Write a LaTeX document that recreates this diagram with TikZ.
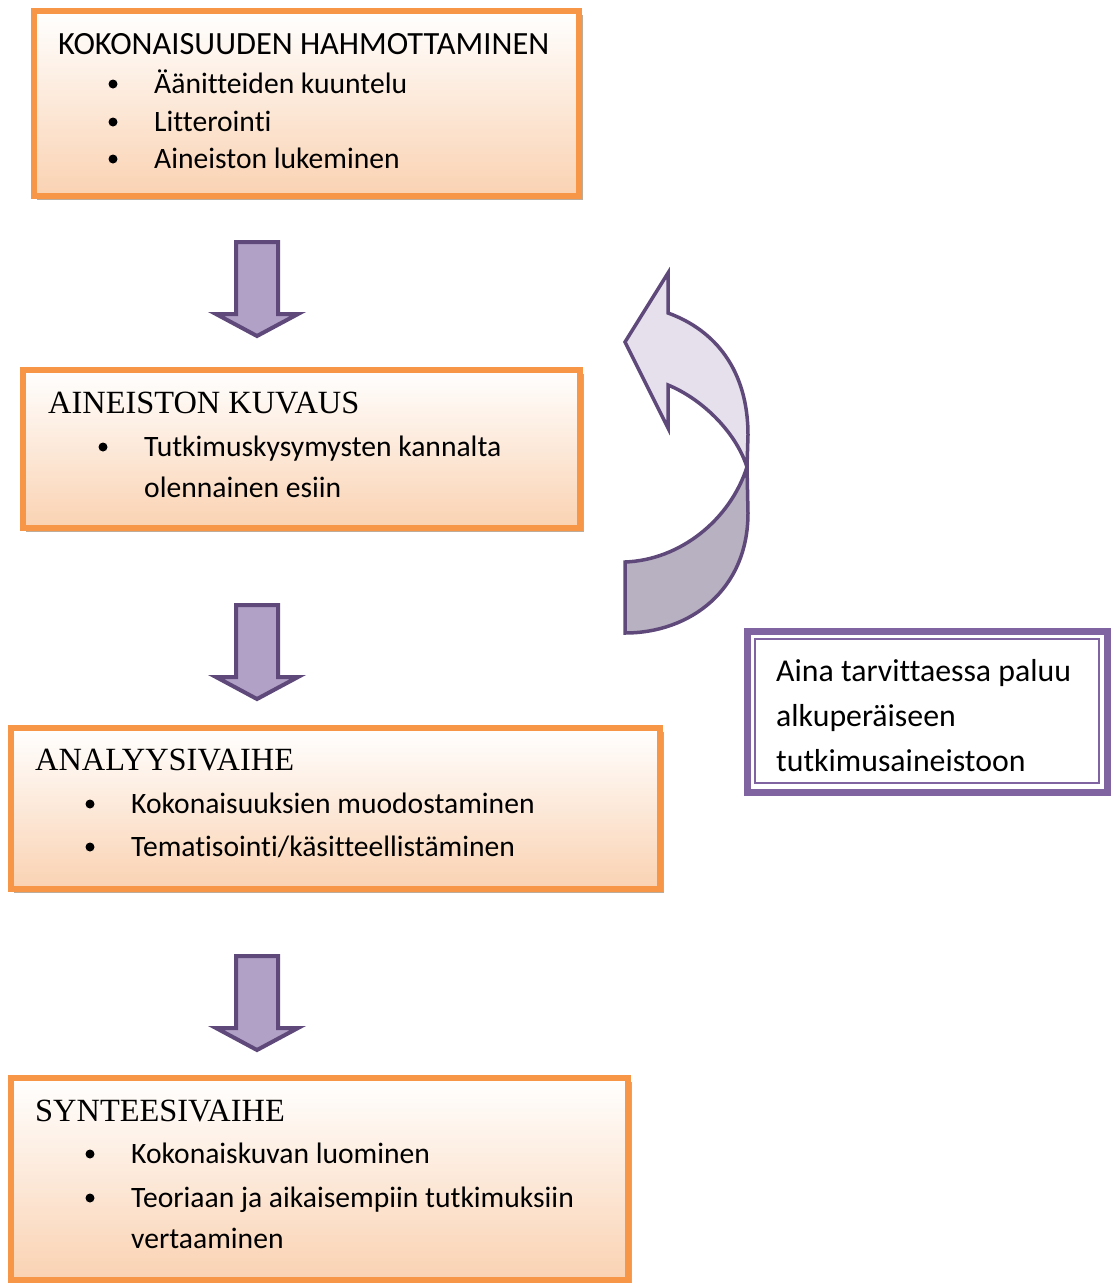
\documentclass[tikz,border=0pt]{standalone}
\usepackage{fontspec}
\setmainfont{Carlito}[Ligatures=NoCommon]
\newfontfamily\timesfont{Liberation Serif}
\definecolor{boxorange}{RGB}{247,150,70}
\definecolor{boxpeach}{RGB}{250,210,178}
\definecolor{boxshadow}{RGB}{190,172,155}
\definecolor{arrowline}{RGB}{95,73,122}
\definecolor{arrowfill}{RGB}{178,161,199}
\definecolor{bandlight}{RGB}{229,224,236}
\definecolor{banddark}{RGB}{184,177,194}
\definecolor{notepurple}{RGB}{128,100,162}

\begin{document}
\begin{tikzpicture}[x=1pt,y=1pt,yscale=-1,
  every node/.style={inner sep=0pt,anchor=base west},
  headtext/.style={font=\fontsize{32.4}{38}\selectfont},
  itemtext/.style={font=\fontsize{29.6}{36}\selectfont},
  notetext/.style={font=\fontsize{31.8}{38}\selectfont},
  orangebox/.style={draw=boxorange,line width=6,top color=white,bottom color=boxpeach},
  boxshade/.style={fill=boxshadow},
  downarrow/.style={draw=arrowline,line width=4,fill=arrowfill},
  bandline/.style={draw=arrowline,line width=3.5},
  notebox/.style={draw=notepurple,line width=7,fill=white}]
\useasboundingbox (0,0) rectangle (1111,1283);

%Shape: Rectangle
\fill[boxshade] (37,15) rectangle (583,200);
\draw[orangebox] (34,11) rectangle (579,196);
%Shape: Rectangle
\fill[boxshade] (26,374) rectangle (584,532);
\draw[orangebox] (23,370) rectangle (580,528);
%Shape: Rectangle
\fill[boxshade] (14,732) rectangle (664,893);
\draw[orangebox] (11,728) rectangle (660,889);
%Shape: Rectangle
\fill[boxshade] (14,1082) rectangle (632,1284);
\draw[orangebox] (11,1078) rectangle (628,1280);

%Shape: Down Arrow
\draw[downarrow] (236,242) -- (278,242) -- (278,314) -- (298,314) -- (257,336) -- (216,314) -- (236,314) -- cycle;
%Shape: Down Arrow
\draw[downarrow] (236,605) -- (278,605) -- (278,677) -- (298,677) -- (257,699) -- (216,677) -- (236,677) -- cycle;
%Shape: Down Arrow
\draw[downarrow] (236,956) -- (278,956) -- (278,1028) -- (298,1028) -- (257,1050) -- (216,1028) -- (236,1028) -- cycle;

%Shape: Curved Left Arrow
\draw[bandline,fill=banddark] (625,562) .. controls (680,560) and (730,520) .. (747,467) -- (748,513) .. controls (748,590) and (690,633) .. (625,633) -- cycle;
\draw[bandline,fill=bandlight] (625,342) -- (668,273) -- (668,313) .. controls (715,330) and (748,370) .. (748,435) -- (747,467) .. controls (735,430) and (700,398) .. (668,385) -- (668,428) -- cycle;

%Shape: Double Frame
\draw[notebox] (747,631) rectangle (1107,792);
\draw[notepurple,line width=2] (755,639) rectangle (1099,783);

% Bullets
\fill (113,84) circle (4.5);
\fill (113,122) circle (4.5);
\fill (113,159) circle (4.5);
\fill (103,447) circle (4.5);
\fill (90,804) circle (4.5);
\fill (90,847) circle (4.5);
\fill (90,1154) circle (4.5);
\fill (90,1198) circle (4.5);

% Text Node
\draw (58,54) node [headtext] (head1) {KOKONAISUUDEN HAHMOTTAMINEN};
% Text Node
\draw (154,93) node [itemtext] (item11) {Äänitteiden kuuntelu};
% Text Node
\draw (154,131) node [itemtext] (item12) {Litterointi};
% Text Node
\draw (154,168) node [itemtext] (item13) {Aineiston lukeminen};
% Text Node
\draw (48,413) node [headtext] (head2) {\timesfont AINEISTON KUVAUS};
% Text Node
\draw (144,456) node [itemtext] (item21) {Tutkimuskysymysten kannalta};
% Text Node
\draw (144,497) node [itemtext] (item22) {olennainen esiin};
% Text Node
\draw (35,770) node [headtext] (head3) {\timesfont ANALYYSIVAIHE};
% Text Node
\draw (131,813) node [itemtext] (item31) {Kokonaisuuksien muodostaminen};
% Text Node
\draw (131,856) node [itemtext] (item32) {Tematisointi/käsitteellistäminen};
% Text Node
\draw (35,1121) node [headtext] (head4) {\timesfont SYNTEESIVAIHE};
% Text Node
\draw (131,1163) node [itemtext] (item41) {Kokonaiskuvan luominen};
% Text Node
\draw (131,1207) node [itemtext] (item42) {Teoriaan ja aikaisempiin tutkimuksiin};
% Text Node
\draw (131,1248) node [itemtext] (item43) {vertaaminen};
% Text Node
\draw (776,681) node [notetext] (note1) {Aina tarvittaessa paluu};
% Text Node
\draw (776,726) node [notetext] (note2) {alkuperäiseen};
% Text Node
\draw (776,771) node [notetext] (note3) {tutkimusaineistoon};
\end{tikzpicture}
\end{document}
